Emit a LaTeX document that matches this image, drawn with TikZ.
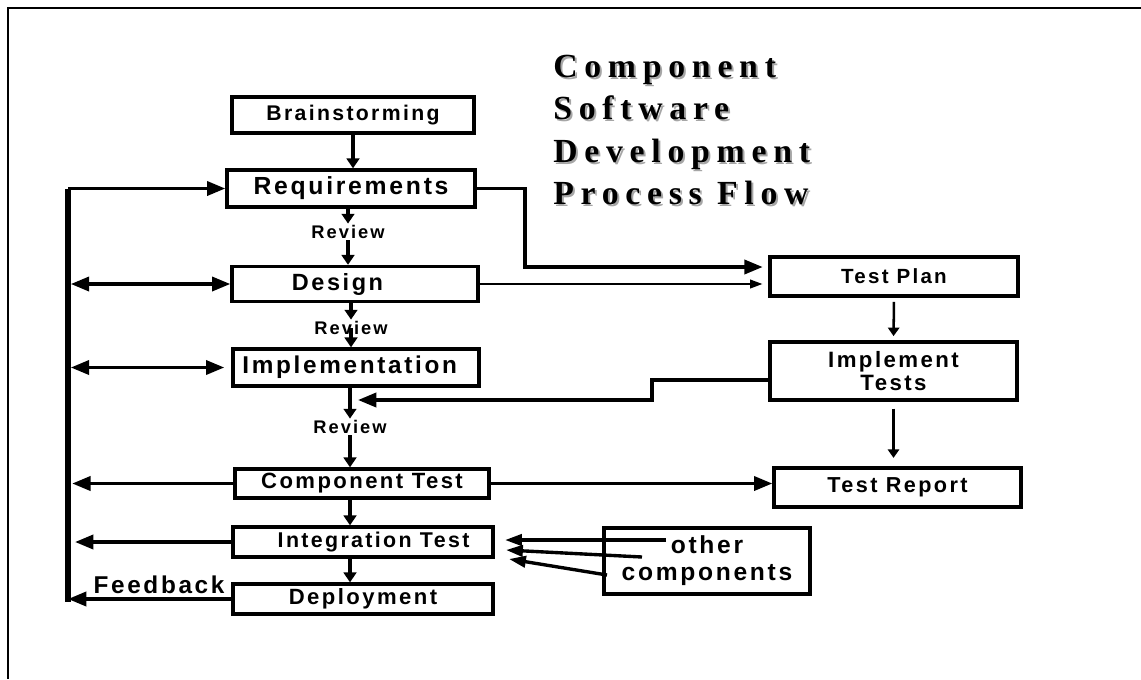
\documentclass[tikz,border=0pt]{standalone}
\usepackage{fontspec}
\setmainfont{Liberation Sans}
\newfontfamily\wide[LetterSpace=11]{Liberation Sans}
\newfontfamily\titlewide[LetterSpace=20]{Liberation Serif}
\usetikzlibrary{arrows.meta}
\newcommand\titletext{Component\\Software\\Development\\Process Flow}

\begin{document}
\begin{tikzpicture}[x=0.025cm, y=-0.025cm,
		stage/.style={draw, line width=2.4pt, inner sep=0pt},
		wh/.style 2 args={minimum width=#1*0.025cm, minimum height=#2*0.025cm},
		fs/.style={font=\wide\bfseries\fontsize{#1}{17}\selectfont},
		note/.style={inner sep=1pt},
		big/.style={line width=2.4pt, -{Triangle[length=13pt, width=10pt]}},
		small/.style={line width=2.4pt, -{Triangle[length=7pt, width=9pt]}},
		mid/.style={line width=1.8pt, -{Triangle[length=6pt, width=8pt]}},
		slim/.style={line width=1.8pt, -{Triangle[length=9pt, width=6pt]}}]
	\useasboundingbox (0,0) rectangle (1141,679);
	\draw[line width=1.6pt] (1141,8) -- (8,8) -- (8,679);
	\node[anchor=north west, inner sep=0pt, align=left, text=black!35, font=\titlewide\bfseries\fontsize{24}{30}\selectfont] (shadow) at (555,57) {\titletext};
	\node[anchor=north west, inner sep=0pt, align=left, font=\titlewide\bfseries\fontsize{24}{30}\selectfont] (title) at (553,55) {\titletext};

	\node[stage, wh={242}{36}, fs=15.1] (brain) at (353,115) {Brainstorming};
	\node[stage, wh={248}{37}, fs=17.6] (req) at (351,188.5) {Requirements};
	\node[stage, wh={246}{35}, fs=16.7] (design) at (355,284) {\hspace*{-25pt}Design};
	\node[stage, wh={246}{37}, fs=17.3] (impl) at (356,367.5) {\hspace*{-9pt}Implementation};
	\node[stage, wh={254}{29}, fs=15.7] (comp) at (362,483.5) {Component Test};
	\node[stage, wh={260}{30}, fs=15.2] (integ) at (363,542) {Integration Test\hspace*{-15pt}};
	\node[stage, wh={260}{30}, fs=15.7] (deploy) at (363,599) {Deployment};
	\node[stage, wh={248}{39}, fs=14.6] (plan) at (894,276.5) {Test Plan};
	\node[stage, wh={247}{58}, font=\wide\bfseries\fontsize{15.8}{16.4}\selectfont, align=center] (itest) at (893.5,371) {Implement\\Tests};
	\node[stage, wh={247}{39}, fs=15.4] (report) at (897.5,487.5) {Test Report};
	\node[stage, wh={206}{66}, font=\wide\bfseries\fontsize{17.5}{19.2}\selectfont, align=center] (other) at (707,561) {other\\components};
	\node[note, fs=13] (rev1) at (348,232) {Review};
	\node[note, fs=13] (rev2) at (351,328) {Review};
	\node[note, fs=13] (rev3) at (350,427) {Review};
	\node[note, fs=17.3] (fb) at (159,585) {Feedback};

	\draw[small] (brain.south) -- (brain.south |- req.north);
	\draw[small] (req.south -| rev1) -- (rev1.north);
	\draw[small] (rev1.south) -- (rev1.south |- design.north);
	\draw[small] (design.south -| rev2) -- (rev2.north);
	\draw[small] (rev2.center) -- (rev2 |- impl.north);
	\draw[small] (impl.south -| rev3) -- (rev3.north);
	\draw[small] (rev3.south) -- (rev3 |- comp.north);
	\draw[small] (comp.south -| rev3) -- (rev3 |- integ.north);
	\draw[small] (integ.south -| rev3) -- (rev3 |- deploy.north);

	\coordinate (bustop) at (68,188.5);
	\coordinate (busbot) at (68,602);
	\draw[line width=4pt] (bustop) -- (busbot);
	\draw[big] (bustop) -- (req.west);
	\draw[big, {Triangle[length=13pt, width=10pt]}-{Triangle[length=13pt, width=10pt]}, shorten <=2pt] (bustop |- design.west) -- (design.west);
	\draw[big, {Triangle[length=13pt, width=10pt]}-{Triangle[length=13pt, width=10pt]}, shorten <=2pt, shorten >=5pt] (bustop |- impl.west) -- (impl.west);
	\draw[big, shorten >=3pt] (comp.west) -- (bustop |- comp.west);
	\draw[big, shorten >=5pt] (integ.west) -- (bustop |- integ.west);
	\draw[big] (deploy.west) -- (bustop |- deploy.west);

	\coordinate (reqbend) at (525,267);
	\draw[big, shorten >=4pt] (req.east) -| (reqbend) -- (reqbend -| plan.west);
	\draw[slim, shorten >=4pt] (design.east) -- (design.east -| plan.west);
	\draw[mid, shorten <=3pt, shorten >=3pt] (plan.south) -- (itest.north);
	\draw[mid, shorten <=5pt, shorten >=6pt] (itest.south) -- (itest.south |- report.north);
	\coordinate (jog) at (652,380);
	\coordinate (feedin) at (358,400);
	\draw[big] (itest.west |- jog) -- (jog) |- (feedin);
	\draw[big] (comp.east) -- (comp.east -| report.west);

	\coordinate (from1) at (666,540);
	\coordinate (from2) at (642,557);
	\coordinate (from3) at (607,575);
	\coordinate (to1) at (505,540);
	\coordinate (to2) at (506,550);
	\coordinate (to3) at (509,559);
	\foreach \i in {1,2,3}
		\draw[big, -{Triangle[length=12pt, width=8pt]}] (from\i) -- (to\i);
\end{tikzpicture}
\end{document}
